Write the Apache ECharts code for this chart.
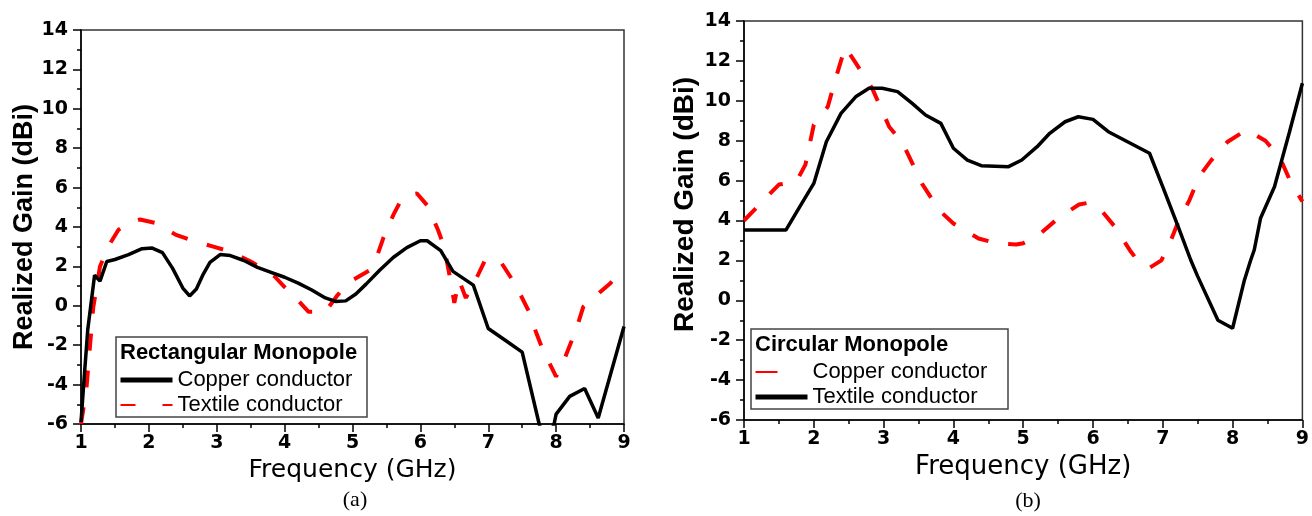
<!DOCTYPE html>
<html>
<head>
<meta charset="utf-8">
<title>Realized Gain</title>
<script src="https://cdn.jsdelivr.net/npm/echarts@6/dist/echarts.min.js"></script>
<style>
  html, body { margin: 0; padding: 0; background: #fff; }
  #chart { width: 1312px; height: 516px; }
</style>
</head>
<body>
<div id="chart"></div>
<script>
// (a) rectangular monopole, [frequency GHz, gain dBi]
const rectCopper = [
  [1.0, -5.9], [1.05, -3.5], [1.1, -1.2], [1.2, 1.55], [1.28, 1.25], [1.38, 2.25],
  [1.5, 2.35], [1.7, 2.6], [1.9, 2.9], [2.05, 2.93], [2.2, 2.7], [2.35, 1.9],
  [2.5, 0.9], [2.6, 0.5], [2.7, 0.85], [2.8, 1.6], [2.9, 2.2], [3.05, 2.6],
  [3.2, 2.55], [3.4, 2.3], [3.6, 1.95], [3.8, 1.7], [4.0, 1.45], [4.2, 1.15],
  [4.4, 0.8], [4.6, 0.4], [4.75, 0.22], [4.9, 0.25], [5.05, 0.6], [5.2, 1.1],
  [5.4, 1.8], [5.6, 2.45], [5.8, 2.95], [6.0, 3.3], [6.1, 3.3], [6.3, 2.8],
  [6.48, 1.75], [6.78, 1.05], [7.0, -1.15], [7.25, -1.75], [7.5, -2.35],
  [7.75, -6], [7.85, -7], [7.97, -6], [8.0, -5.5], [8.2, -4.6], [8.42, -4.2],
  [8.62, -5.7], [9.0, -1.05]
];
const rectTextile = [
  [1.0, -6], [1.08, -4.2], [1.18, -0.1], [1.28, 2.0], [1.4, 3.0], [1.55, 3.85],
  [1.7, 4.2], [1.87, 4.38], [2.1, 4.2], [2.4, 3.6], [2.65, 3.3], [2.95, 3.0],
  [3.2, 2.75], [3.5, 2.25], [3.7, 1.85], [3.85, 1.5], [4.0, 0.95], [4.15, 0.45],
  [4.35, -0.3], [4.6, -0.3], [4.77, 0.5], [4.95, 1.2], [5.25, 1.8], [5.35, 2.4],
  [5.45, 3.4], [5.6, 4.6], [5.72, 5.4], [5.85, 5.65], [5.95, 5.7], [6.1, 5.1],
  [6.26, 3.85], [6.35, 3.0], [6.44, 1.35], [6.5, 0.15], [6.57, 1.3], [6.67, 0.4],
  [6.84, 1.5], [6.95, 2.3], [7.17, 2.3], [7.34, 1.4], [7.47, 0.6], [7.6, -0.3],
  [7.7, -1.3], [7.8, -2.2], [7.9, -2.9], [8.0, -3.6], [8.1, -2.9], [8.3, -1.15],
  [8.4, -0.05], [8.55, 0.4], [8.8, 1.15], [9.0, 1.9]
];

// (b) circular monopole
const circCopper = [
  [1.0, 4.0], [1.25, 4.9], [1.5, 5.8], [1.75, 5.95], [1.88, 6.8], [2.0, 8.8],
  [2.2, 9.7], [2.32, 11.2], [2.45, 12.7], [2.6, 11.9], [2.84, 10.6], [3.08, 8.7],
  [3.27, 7.9], [3.55, 5.85], [3.8, 4.5], [4.0, 3.85], [4.36, 3.1], [4.62, 2.86],
  [4.9, 2.8], [5.0, 2.86], [5.22, 3.27], [5.53, 4.2], [5.8, 4.8], [5.95, 4.9],
  [6.12, 4.5], [6.31, 3.7], [6.53, 2.5], [6.67, 1.85], [6.82, 1.65], [6.98, 2.0],
  [7.1, 2.86], [7.24, 4.1], [7.38, 5.0], [7.52, 6.2], [7.69, 7.0], [7.93, 7.95],
  [8.2, 8.55], [8.47, 8.0], [8.67, 7.2], [8.83, 5.95], [9.0, 4.95]
];
const circTextile = [
  [1.0, 3.52], [1.6, 3.52], [1.8, 4.7], [2.0, 5.86], [2.18, 7.95], [2.39, 9.37],
  [2.6, 10.2], [2.79, 10.63], [2.98, 10.63], [3.2, 10.46], [3.41, 9.87], [3.6, 9.29],
  [3.82, 8.87], [4.0, 7.62], [4.2, 7.03], [4.4, 6.75], [4.79, 6.7], [4.98, 7.03],
  [5.2, 7.7], [5.38, 8.37], [5.6, 8.95], [5.79, 9.2], [6.0, 9.07], [6.22, 8.45],
  [6.81, 7.37], [7.0, 5.69], [7.22, 3.69], [7.4, 2.02], [7.5, 1.2], [7.79, -1.0],
  [8.0, -1.4], [8.17, 1.02], [8.26, 2.02], [8.31, 2.52], [8.4, 4.11], [8.6, 5.69],
  [8.81, 8.37], [9.0, 10.88]
];

const seriesLabels = {
  aCopper: "Copper conductor",
  aTextile: "Textile conductor",
  bCopper: "Copper conductor",
  bTextile: "Textile conductor"
};

const myChart = echarts.init(document.getElementById("chart"));

function xAxisFor(idx, gap, nameSize) {
  return {
    gridIndex: idx,
    type: "value",
    min: 1,
    max: 9,
    interval: 1,
    axisLine: { onZero: false, lineStyle: { color: "#000", width: 1.5 } },
    axisTick: { length: 8, lineStyle: { color: "#000", width: 1.5 } },
    minorTick: { show: true, splitNumber: 2, length: 4, lineStyle: { color: "#000", width: 1.5 } },
    splitLine: { show: false },
    axisLabel: { margin: 10, color: "#000", fontFamily: "DejaVu Sans", fontWeight: "bold", fontSize: 19 },
    name: "Frequency (GHz)",
    nameLocation: "middle",
    nameGap: gap,
    nameTextStyle: { color: "#000", fontFamily: "DejaVu Sans", fontSize: nameSize }
  };
}

function yAxisFor(idx, gap, nameSize, pad) {
  return {
    gridIndex: idx,
    type: "value",
    min: -6,
    max: 14,
    interval: 2,
    axisLine: { show: true, onZero: false, lineStyle: { color: "#000", width: 1.5 } },
    axisTick: { show: true, length: 8, lineStyle: { color: "#000", width: 1.5 } },
    minorTick: { show: true, splitNumber: 2, length: 4, lineStyle: { color: "#000", width: 1.5 } },
    splitLine: { show: false },
    axisLabel: { margin: 13, color: "#000", fontFamily: "DejaVu Sans", fontWeight: "bold", fontSize: 19 },
    name: "Realized Gain (dBi)",
    nameLocation: "middle",
    nameGap: gap,
    nameTextStyle: {
      color: "#000",
      fontFamily: "Liberation Sans",
      fontWeight: "bold",
      fontSize: nameSize,
      padding: pad
    }
  };
}

const solidBlack = { color: "#000", width: 3.5, type: "solid" };
const dashRed = { color: "#ff0000", width: 4, type: [17, 20] };

// legend look shared by both boxes; the symbol is hidden so only the line sample shows
const legendBase = {
  orient: "vertical",
  padding: 0,
  itemWidth: 52,
  itemHeight: 14,
  itemGap: 3,
  selectedMode: false,
  itemStyle: { color: "rgba(0,0,0,0)", opacity: 0, borderWidth: 0 },
  formatter: name => seriesLabels[name],
  textStyle: { color: "#000", fontFamily: "Liberation Sans", fontSize: 22, lineHeight: 22 }
};

const option = {
  backgroundColor: "#fff",
  animation: false,
  grid: [
    { left: 81, top: 30, width: 543, height: 394, show: true, borderColor: "#333", borderWidth: 1.5 },
    { left: 744, top: 21, width: 561, height: 399, show: true, borderColor: "#333", borderWidth: 1.5 }
  ],
  xAxis: [xAxisFor(0, 30, 25), xAxisFor(1, 31, 26)],
  yAxis: [yAxisFor(0, 42, 27, 0), yAxisFor(1, 45, 28, [0, 0, 0, 32])],
  legend: [
    Object.assign({}, legendBase, {
      left: 118,
      top: 369,
      data: [
        { name: "aCopper", lineStyle: { width: 5 } },
        { name: "aTextile", lineStyle: { type: [15, 27] } }
      ]
    }),
    Object.assign({}, legendBase, {
      left: 753,
      top: 361,
      data: [
        { name: "bCopper", lineStyle: { type: [22, 30] } },
        { name: "bTextile", lineStyle: { width: 5 } }
      ]
    })
  ],
  graphic: [
    {
      type: "rect",
      shape: { x: 116, y: 337, width: 251, height: 80 },
      style: { fill: "rgba(0,0,0,0)", stroke: "#444", lineWidth: 1.5 },
      z: 10
    },
    {
      type: "text",
      x: 120,
      y: 353,
      style: { text: "Rectangular Monopole", fill: "#000", font: 'bold 22px "Liberation Sans"', verticalAlign: "middle" },
      z: 10
    },
    {
      type: "rect",
      shape: { x: 751, y: 329, width: 257, height: 80 },
      style: { fill: "rgba(0,0,0,0)", stroke: "#444", lineWidth: 1.5 },
      z: 10
    },
    {
      type: "text",
      x: 755,
      y: 345,
      style: { text: "Circular Monopole", fill: "#000", font: 'bold 22px "Liberation Sans"', verticalAlign: "middle" },
      z: 10
    },
    {
      type: "text",
      x: 355,
      y: 500,
      style: { text: "(a)", fill: "#000", font: '22px "Liberation Serif"', align: "center", verticalAlign: "middle" }
    },
    {
      type: "text",
      x: 1028,
      y: 501,
      style: { text: "(b)", fill: "#000", font: '22px "Liberation Serif"', align: "center", verticalAlign: "middle" }
    }
  ],
  series: [
    { name: "aCopper", type: "line", xAxisIndex: 0, yAxisIndex: 0, symbol: "none", data: rectCopper, lineStyle: solidBlack, itemStyle: { color: "#000" }, z: 3 },
    { name: "aTextile", type: "line", xAxisIndex: 0, yAxisIndex: 0, symbol: "none", data: rectTextile, lineStyle: dashRed, itemStyle: { color: "#ff0000" }, z: 2 },
    { name: "bCopper", type: "line", xAxisIndex: 1, yAxisIndex: 1, symbol: "none", data: circCopper, lineStyle: dashRed, itemStyle: { color: "#ff0000" }, z: 2 },
    { name: "bTextile", type: "line", xAxisIndex: 1, yAxisIndex: 1, symbol: "none", data: circTextile, lineStyle: solidBlack, itemStyle: { color: "#000" }, z: 3 }
  ]
};

myChart.setOption(option);
</script>
</body>
</html>
